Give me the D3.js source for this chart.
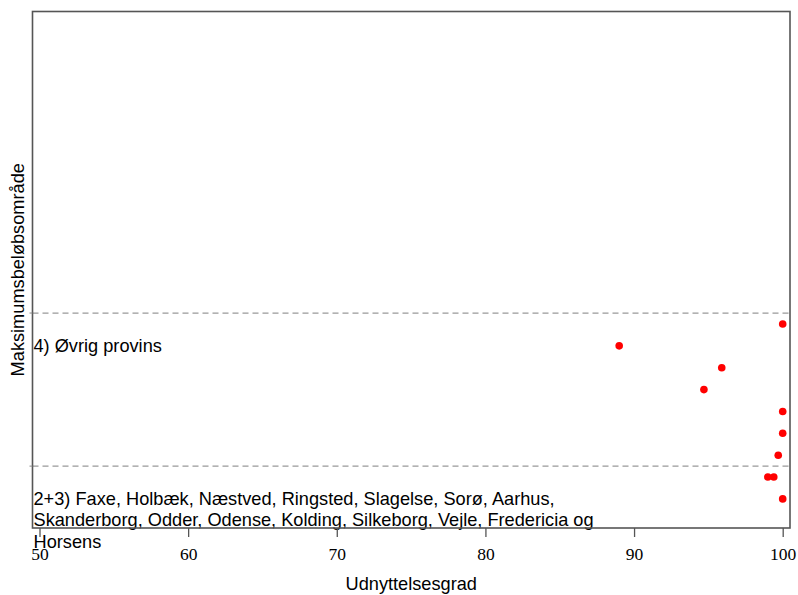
<!DOCTYPE html>
<html><head><meta charset="utf-8">
<script src="https://cdn.jsdelivr.net/npm/d3@7/dist/d3.min.js"></script>
<style>body{margin:0;background:#fff}</style>
</head><body>
<script>
// Data: each point has a row (position in the dot chart) and a value
const rows = [9, 8, 7, 6, 5, 4, 3, 2, 2, 1];
const values = [100, 89.0, 95.9, 94.7, 100, 100, 99.7, 99.0, 99.4, 100];
const groupLabels = ["4) Øvrig provins", "2+3) Faxe, Holbæk, Næstved, Ringsted, Slagelse, Sorø, Aarhus,\nSkanderborg, Odder, Odense, Kolding, Silkeborg, Vejle, Fredericia og\nHorsens"];
const groupLabelRows = [8, 1];
const separatorRows = [9.5, 2.5];
const xTicks = [50, 60, 70, 80, 90, 100];
const xTitle = "Udnyttelsesgrad";
const yTitle = "Maksimumsbeløbsområde";

const W = 798, H = 595;
const pL = 32.5, pR = 790, pT = 11.5, pB = 528;
const FS = 18.2;
const svg = d3.select("body").append("svg").attr("width", W).attr("height", H);

const x = d3.scaleLinear().domain([50, 100]).range([39.5, 782.7]);
const y = d3.scaleLinear().domain([-0.33, 23.29]).range([pB, pT]);

// separators
svg.selectAll("line.sep").data(separatorRows).enter().append("line")
  .attr("x1", pL).attr("x2", pR)
  .attr("y1", d => y(d)).attr("y2", d => y(d))
  .attr("stroke", "#999").attr("stroke-width", 1.2).attr("stroke-dasharray", "6,4");

// points
svg.selectAll("circle").data(values).enter().append("circle")
  .attr("cx", d => x(d)).attr("cy", (d, i) => y(rows[i]))
  .attr("r", 3.8).attr("fill", "#ff0000");

// group labels
groupLabels.forEach((lab, gi) => {
  const lines = lab.split("\n");
  const t = svg.append("text").attr("font-family", "Liberation Sans, Arial, sans-serif")
    .attr("font-size", FS).attr("fill", "#000");
  lines.forEach((ln, li) => {
    t.append("tspan").attr("x", pL + 1).attr("y", y(groupLabelRows[gi]) + 6 + li * 21.5).text(ln);
  });
});

// frame
svg.append("rect").attr("x", pL).attr("y", pT).attr("width", pR - pL).attr("height", pB - pT)
  .attr("fill", "none").attr("stroke", "#555").attr("stroke-width", 1.6);

// x axis
const xAxis = d3.axisBottom(x).tickValues(xTicks).tickSize(9).tickPadding(11).tickFormat(d3.format("d"));
const gx = svg.append("g").attr("transform", `translate(0,${pB})`).call(xAxis);
gx.select(".domain").remove();
gx.selectAll(".tick line").attr("stroke", "#555").attr("stroke-width", 1.3);
gx.selectAll(".tick text").attr("font-family", "Liberation Serif, Times New Roman, serif")
  .attr("font-size", 17.5).attr("fill", "#000");

// y ticks at separators (small ticks outside)
svg.selectAll("line.yt").data(separatorRows).enter().append("line")
  .attr("x1", pL - 3).attr("x2", pL).attr("y1", d => y(d)).attr("y2", d => y(d))
  .attr("stroke", "#888").attr("stroke-width", 1);

// titles
svg.append("text").attr("x", (pL + pR) / 2).attr("y", 590).attr("text-anchor", "middle")
  .attr("font-family", "Liberation Sans, Arial, sans-serif").attr("font-size", FS).text(xTitle);
svg.append("text").attr("transform", `translate(23.5,${(pT + pB) / 2}) rotate(-90)`)
  .attr("text-anchor", "middle")
  .attr("font-family", "Liberation Sans, Arial, sans-serif").attr("font-size", FS).text(yTitle);
</script>
</body></html>
